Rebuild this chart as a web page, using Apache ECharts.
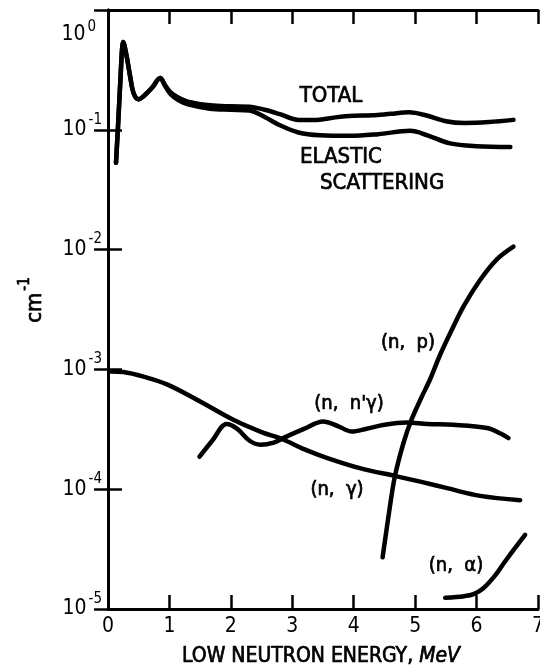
<!DOCTYPE html>
<html>
<head>
<meta charset="utf-8">
<script src="https://cdn.jsdelivr.net/npm/echarts@6/dist/echarts.min.js"></script>
<style>html,body{margin:0;padding:0;background:#fff}#c{width:540px;height:669px}</style>
</head>
<body>
<div id="c"></div>
<script>
// ---- data (energy in MeV, macroscopic cross-section in cm^-1) ----
const xTicks = [0, 1, 2, 3, 4, 5, 6, 7];
const yTickExponents = ['0', '-1', '-2', '-3', '-4', '-5'];

const totalE = [0.13, 0.16, 0.20, 0.23, 0.245, 0.30, 0.36, 0.42, 0.50, 0.60, 0.72, 0.85, 0.93, 1.02, 1.15, 1.30, 1.66, 2.00, 2.30, 2.55, 2.80, 3.10, 3.40, 3.70, 4.00, 4.30, 4.60, 4.90, 5.20, 5.50, 5.80, 6.20, 6.60];
const totalV = [0.053, 0.10, 0.25, 0.48, 0.54, 0.42, 0.28, 0.20, 0.18, 0.195, 0.225, 0.27, 0.235, 0.205, 0.185, 0.172, 0.160, 0.157, 0.156, 0.147, 0.135, 0.121, 0.121, 0.127, 0.131, 0.132, 0.136, 0.140, 0.131, 0.118, 0.114, 0.116, 0.121];

const elasticE = [0.13, 0.16, 0.20, 0.23, 0.245, 0.30, 0.36, 0.42, 0.50, 0.60, 0.72, 0.85, 0.93, 1.02, 1.15, 1.30, 1.66, 2.00, 2.30, 2.55, 2.80, 3.10, 3.45, 3.94, 4.40, 4.92, 5.20, 5.57, 6.00, 6.55];
const elasticV = [0.053, 0.10, 0.25, 0.48, 0.54, 0.42, 0.28, 0.20, 0.18, 0.195, 0.225, 0.27, 0.232, 0.198, 0.176, 0.163, 0.150, 0.147, 0.145, 0.128, 0.109, 0.095, 0.090, 0.089, 0.092, 0.098, 0.090, 0.077, 0.073, 0.072];

const nGammaE = [0.05, 0.25, 0.58, 0.96, 1.50, 2.04, 2.50, 2.85, 3.20, 3.56, 4.10, 4.70, 5.10, 5.52, 6.06, 6.71];
const nGammaV = [9.6e-4, 9.5e-4, 8.7e-4, 7.5e-4, 5.4e-4, 3.8e-4, 3.0e-4, 2.6e-4, 2.15e-4, 1.83e-4, 1.5e-4, 1.28e-4, 1.15e-4, 1.02e-4, 8.8e-5, 8.1e-5];

const nnGammaE = [1.49, 1.70, 1.93, 2.10, 2.30, 2.48, 2.70, 2.85, 3.20, 3.50, 3.75, 3.97, 4.21, 4.50, 4.86, 5.20, 5.62, 6.17, 6.40, 6.52];
const nnGammaV = [1.87e-4, 2.55e-4, 3.5e-4, 3.2e-4, 2.55e-4, 2.35e-4, 2.45e-4, 2.67e-4, 3.2e-4, 3.68e-4, 3.35e-4, 3.03e-4, 3.2e-4, 3.45e-4, 3.6e-4, 3.5e-4, 3.45e-4, 3.24e-4, 2.9e-4, 2.67e-4];

const npE = [4.47, 4.59, 4.67, 4.81, 4.94, 5.10, 5.24, 5.40, 5.57, 5.79, 6.06, 6.33, 6.60];
const npV = [2.7e-5, 7.2e-5, 1.28e-4, 2.43e-4, 3.8e-4, 5.8e-4, 8.2e-4, 1.3e-3, 2.0e-3, 3.37e-3, 5.6e-3, 8.3e-3, 1.06e-2];

const nAlphaE = [5.49, 5.80, 5.95, 6.11, 6.30, 6.44, 6.60, 6.79];
const nAlphaV = [1.24e-5, 1.28e-5, 1.33e-5, 1.49e-5, 1.9e-5, 2.4e-5, 3.1e-5, 4.16e-5];

// ---- chart ----
const FONT = "'Liberation Sans Narrow', 'DejaVu Sans Condensed', 'Liberation Sans', sans-serif";
const pair = (xs, ys) => xs.map((x, i) => [x, ys[i]]);
const lineSeries = (name, xs, ys) => ({
  name, type: 'line', data: pair(xs, ys), showSymbol: false, symbol: 'none',
  smooth: 0.35, lineStyle: { color: '#000', width: 4.5, cap: 'round', join: 'round' },
  xAxisIndex: 0, yAxisIndex: 0, animation: false
});

const chart = echarts.init(document.getElementById('c'), null, { renderer: 'canvas' });
const axisLineStyle = () => ({ color: '#000', width: 3 });
const tickStyle = () => ({ show: true, inside: true, length: 14, lineStyle: { color: '#000', width: 2.5 } });
const thick = { stroke: '#000', lineWidth: 0.7 };

chart.setOption({
  animation: false,
  backgroundColor: '#fff',
  grid: { left: 108, right: 2, top: 10, bottom: 60, containLabel: false, outerBoundsMode: 'none' },
  xAxis: [
    {
      type: 'value', min: xTicks[0], max: xTicks[xTicks.length - 1], interval: 1,
      position: 'bottom',
      axisLine: { show: true, lineStyle: axisLineStyle() },
      axisTick: tickStyle(),
      splitLine: { show: false },
      axisLabel: { color: '#000', fontSize: 21, fontFamily: FONT, margin: 7,
        formatter: v => String(xTicks[xTicks.indexOf(v)]) }
    },
    {
      type: 'value', min: xTicks[0], max: xTicks[xTicks.length - 1], interval: 1,
      position: 'top',
      axisLine: { show: true, lineStyle: axisLineStyle() },
      axisTick: tickStyle(), splitLine: { show: false }, axisLabel: { show: false }
    }
  ],
  yAxis: [
    {
      type: 'log', logBase: 10, min: 1e-5, max: 1,
      position: 'left',
      axisLine: { show: true, lineStyle: axisLineStyle() },
      axisTick: tickStyle(),
      minorTick: { show: false },
      splitLine: { show: false },
      axisLabel: {
        color: '#000', margin: 6, align: 'right',
        formatter: v => {
          const e = Math.round(Math.log10(v));
          const lab = yTickExponents[-e];
          return e === 0 ? '{bt|10}{st|' + lab + '}' : '{b|10}{s|' + lab + '}';
        },
        rich: {
          b: { fontSize: 21, fontFamily: FONT, color: '#000' },
          s: { fontSize: 15, fontFamily: FONT, color: '#000', padding: [0, 0, 20, 2] },
          bt: { fontSize: 21, fontFamily: FONT, color: '#000', padding: [50, 0, 0, 0] },
          st: { fontSize: 15, fontFamily: FONT, color: '#000', padding: [34, 6, 0, 2] }
        }
      }
    },
    {
      type: 'log', logBase: 10, min: 1e-5, max: 1,
      position: 'right',
      axisLine: { show: true, lineStyle: axisLineStyle() },
      axisTick: tickStyle(), splitLine: { show: false }, axisLabel: { show: false }
    }
  ],
  series: [
    lineSeries('TOTAL', totalE, totalV),
    lineSeries('ELASTIC SCATTERING', elasticE, elasticV),
    lineSeries('(n, γ)', nGammaE, nGammaV),
    lineSeries("(n, n'γ)", nnGammaE, nnGammaV),
    lineSeries('(n, p)', npE, npV),
    lineSeries('(n, α)', nAlphaE, nAlphaV)
  ],
  graphic: [
    { type: 'text', x: 331, y: 96, style: Object.assign({ text: 'TOTAL', font: "22px " + FONT, fill: '#000', align: 'center', verticalAlign: 'middle' }, thick) },
    { type: 'text', x: 300, y: 157, style: Object.assign({ text: 'ELASTIC', font: "22px " + FONT, fill: '#000', align: 'left', verticalAlign: 'middle' }, thick) },
    { type: 'text', x: 320, y: 183, style: Object.assign({ text: 'SCATTERING', font: "22px " + FONT, fill: '#000', align: 'left', verticalAlign: 'middle' }, thick) },
    { type: 'text', x: 408, y: 343, style: Object.assign({ text: '(n,  p)', font: "20px " + FONT, fill: '#000', align: 'center', verticalAlign: 'middle' }, thick) },
    { type: 'text', x: 349, y: 404, style: Object.assign({ text: "(n,  n'γ)", font: "20px " + FONT, fill: '#000', align: 'center', verticalAlign: 'middle' }, thick) },
    { type: 'text', x: 337, y: 490, style: Object.assign({ text: '(n,  γ)', font: "20px " + FONT, fill: '#000', align: 'center', verticalAlign: 'middle' }, thick) },
    { type: 'text', x: 456, y: 566, style: Object.assign({ text: '(n,  α)', font: "20px " + FONT, fill: '#000', align: 'center', verticalAlign: 'middle' }, thick) },
    { type: 'text', x: 321, y: 657, style: {
        text: '{r|LOW NEUTRON ENERGY, }{i|MeV}', align: 'center', verticalAlign: 'middle',
        rich: { r: { font: "21px " + FONT, fill: '#000', stroke: '#000', lineWidth: 0.7 }, i: { font: "italic 21px " + FONT, fill: '#000', stroke: '#000', lineWidth: 0.7 } } } },
    { type: 'text', x: 35, y: 300, rotation: Math.PI / 2, style: {
        text: '{b|cm}{s|-1}', align: 'center', verticalAlign: 'middle',
        rich: { b: { font: "22px " + FONT, fill: '#000', stroke: '#000', lineWidth: 0.7 }, s: { font: "15px " + FONT, fill: '#000', stroke: '#000', lineWidth: 0.7, padding: [0, 0, 20, 2] } } } }
  ]
});
</script>
</body>
</html>
